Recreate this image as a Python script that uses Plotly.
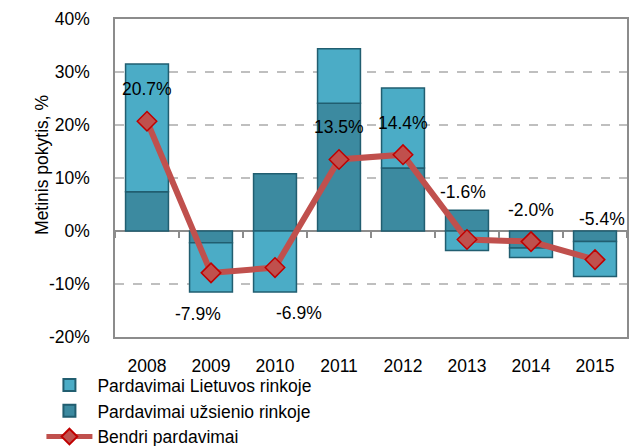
import plotly.graph_objects as go

years = ["2008", "2009", "2010", "2011", "2012", "2013", "2014", "2015"]
lietuvos = [24.1, -9.3, -11.5, 10.3, 15.1, -3.7, -1.8, -6.6]
uzsienio = [7.4, -2.2, 10.8, 24.1, 11.9, 3.9, -3.2, -2.0]
bendri = [20.7, -7.9, -6.9, 13.5, 14.4, -1.6, -2.0, -5.4]
labels = ["20.7%", "-7.9%", "-6.9%", "13.5%", "14.4%", "-1.6%", "-2.0%", "-5.4%"]
y_ticks = [-20, -10, 0, 10, 20, 30, 40]
y_ticklabels = ["-20%", "-10%", "0%", "10%", "20%", "30%", "40%"]

# label placement (style)
lab_xshift = [0, -13, 24, 0, 0, -4, 0, 7]
lab_yshift = [32, -41, -45, 32, 32, 47, 32, 41]

FONT = "Liberation Sans, Arial, sans-serif"
LIGHT = "#4BACC6"
DARK = "#3C8AA0"
EDGE = "#215E70"
NCAT = len(years)
FS = 17.5

fig = go.Figure()
fig.add_trace(go.Bar(
    x=years, y=uzsienio, name="Pardavimai užsienio rinkoje",
    marker=dict(color=DARK, line=dict(color=EDGE, width=1.5)),
    legendrank=2, width=0.67,
))
fig.add_trace(go.Bar(
    x=years, y=lietuvos, name="Pardavimai Lietuvos rinkoje",
    marker=dict(color=LIGHT, line=dict(color=EDGE, width=1.5)),
    legendrank=1, width=0.67,
))
fig.add_trace(go.Scatter(
    x=years, y=bendri, name="Bendri pardavimai", mode="lines+markers",
    line=dict(color="#C0504D", width=6),
    marker=dict(symbol="diamond", size=15, color="#C0504D",
                line=dict(color="#C00000", width=1.5)),
    legendrank=3,
))
# helper trace so the zero-line boundary ticks axis is drawn
fig.add_trace(go.Scatter(x=[None], y=[None], xaxis="x2", showlegend=False,
                         hoverinfo="skip"))

for i, (yv, t) in enumerate(zip(bendri, labels)):
    fig.add_annotation(x=i, y=yv, text=t, showarrow=False,
                       xshift=lab_xshift[i], yshift=lab_yshift[i],
                       font=dict(family=FONT, size=FS, color="black"))

fig.add_annotation(text="Metinis pokytis, %", textangle=-90, showarrow=False,
                   xref="paper", yref="paper", x=-0.1426, y=0.541,
                   xanchor="center", yanchor="middle",
                   font=dict(family=FONT, size=FS, color="black"))

fig.update_layout(
    width=630, height=446,
    margin=dict(l=115, r=3, t=19, b=109, autoexpand=False),
    barmode="relative",
    bargap=0.33,
    paper_bgcolor="white", plot_bgcolor="white",
    font=dict(family=FONT, size=FS, color="black"),
    showlegend=True,
    legend=dict(x=-0.1437, y=-0.095, xanchor="left", yanchor="top",
                orientation="v", font=dict(family=FONT, size=FS, color="black"),
                bgcolor="rgba(0,0,0,0)", tracegroupgap=0, itemwidth=46,
                itemsizing="constant", traceorder="normal"),
    xaxis=dict(type="category", range=[-0.5, NCAT - 0.5], showgrid=False,
               showline=True, linecolor="#8C8C8C", linewidth=1.5, mirror=True,
               ticks="", ticklabelstandoff=12, automargin=False,
               tickfont=dict(family=FONT, size=FS, color="black")),
    xaxis2=dict(type="linear", range=[-0.5, NCAT - 0.5], overlaying="x",
                anchor="free", position=1/3, showgrid=False, showline=False,
                zeroline=False, tickmode="linear", tick0=-0.5, dtick=1,
                ticks="outside", ticklen=6,
                tickcolor="#8C8C8C", tickwidth=1.5, showticklabels=False),
    yaxis=dict(range=[-20, 40], tickvals=y_ticks, ticktext=y_ticklabels,
               showgrid=True, gridcolor="#BFBFBF", griddash="dash", gridwidth=1.5,
               zeroline=True, zerolinecolor="#8C8C8C", zerolinewidth=1.5,
               showline=True, linecolor="#8C8C8C", linewidth=1.5, mirror=True,
               ticks="", ticklabelstandoff=20, automargin=False,
               tickfont=dict(family=FONT, size=FS, color="black")),
)

fig.write_html("out.html", config={"displayModeBar": False},
               post_script="document.body.style.margin='0';document.body.style.padding='0';")
